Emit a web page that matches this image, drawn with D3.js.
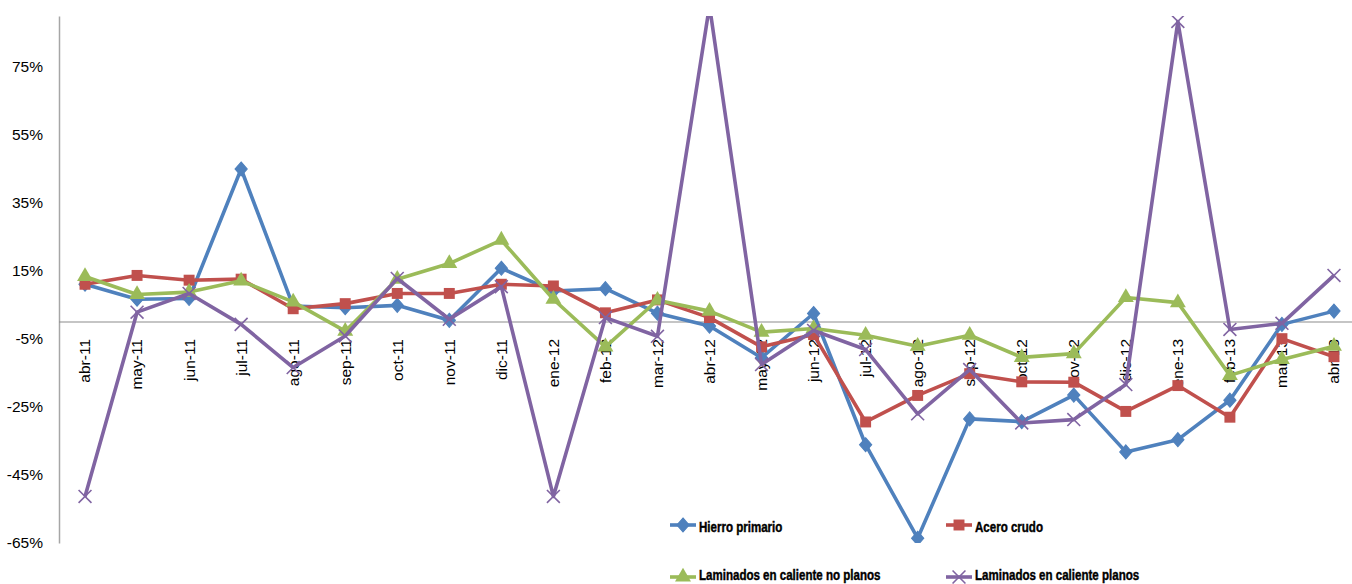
<!DOCTYPE html>
<html>
<head>
<meta charset="utf-8">
<script src="https://cdn.jsdelivr.net/npm/d3@7/dist/d3.min.js"></script>
<style>
  html, body { margin: 0; padding: 0; background: #fff; }
  svg { display: block; }
</style>
</head>
<body>
<svg id="chart" width="1352" height="584"></svg>
<script>
// Monthly year-on-year variation (%), April 2011 – April 2013
const months = ["abr-11","may-11","jun-11","jul-11","ago-11","sep-11","oct-11","nov-11","dic-11",
  "ene-12","feb-12","mar-12","abr-12","may-12","jun-12","jul-12","ago-12","sep-12","oct-12",
  "nov-12","dic-12","ene-13","feb-13","mar-13","abr-13"];

const hierroPrimario = [11.1, 6.7, 6.9, 45.0, 4.7, 4.2, 4.9, 0.5, 15.8, 9.1, 9.8, 2.6, -1.2, -10.5,
  2.5, -36.1, -63.6, -28.5, -29.3, -21.5, -38.2, -34.6, -23.0, -0.7, 3.2];
const aceroCrudo = [11.1, 13.7, 12.3, 12.6, 3.9, 5.4, 8.4, 8.4, 11.1, 10.6, 2.7, 6.5, 1.3, -7.3,
  -3.7, -29.4, -21.6, -15.2, -17.6, -17.7, -26.3, -18.7, -28.0, -4.9, -10.2];
const noPlanos = [13.4, 8.1, 8.8, 12.1, 5.9, -2.7, 12.6, 17.2, 24.1, 6.7, -7.3, 6.4, 3.2, -3.0,
  -1.9, -3.9, -7.1, -3.9, -10.4, -9.3, 7.2, 5.7, -15.7, -11.0, -7.1];
const planos = [-51.3, 2.9, 8.4, -0.7, -13.4, -4.1, 12.8, 0.8, 10.4, -51.3, 1.3, -4.2, 93.0, -12.5,
  -2.5, -8.1, -27.0, -14.0, -29.7, -28.7, -18.4, 88.4, -2.2, -0.4, 13.7];

const yTicks = [-65, -45, -25, -5, 15, 35, 55, 75];

const seriesNames = ["Hierro primario", "Acero crudo", "Laminados en caliente no planos", "Laminados en caliente planos"];
const seriesColors = ["#4F81BD", "#C0504D", "#9BBB59", "#8064A2"];
const seriesMarkers = ["diamond", "square", "triangle", "cross"];
const seriesValues = [hierroPrimario, aceroCrudo, noPlanos, planos];

const svg = d3.select("#chart");
const plot = { left: 59, top: 16, bottom: 543, step: 52.04 };
const baseFont = "'Liberation Sans', Arial, sans-serif";

const x = d3.scaleBand()
  .domain(months)
  .range([plot.left, plot.left + plot.step * months.length])
  .padding(0);
const xc = m => x(m) + x.bandwidth() / 2;

const y = d3.scaleLinear().domain([-65, 90]).range([plot.bottom, plot.top]);

// clip region for the plot area
svg.append("defs").append("clipPath").attr("id", "plotClip")
  .append("rect")
  .attr("x", plot.left).attr("y", plot.top)
  .attr("width", 1352 - plot.left).attr("height", plot.bottom - plot.top);

// Y axis: line and percentage labels
const yAxis = d3.axisLeft(y).tickValues(yTicks).tickSize(0).tickPadding(16)
  .tickFormat(d => d + "%");
const gy = svg.append("g").attr("transform", `translate(${plot.left},0)`).call(yAxis);
gy.select(".domain").attr("stroke", "#A6A6A6").attr("stroke-width", 1.5);
gy.selectAll("text")
  .attr("font-family", baseFont)
  .attr("font-size", 15.5)
  .attr("fill", "#000");

// Category axis sits on the 0% line
const xAxis = d3.axisBottom(x).tickSize(0).tickPadding(0);
const gx = svg.append("g").attr("transform", `translate(0,${y(0)})`).call(xAxis);
gx.select(".domain").remove();
gx.append("line")
  .attr("x1", plot.left).attr("x2", 1352)
  .attr("y1", 0).attr("y2", 0)
  .attr("stroke", "#8C8C8C").attr("stroke-width", 1.2);
gx.selectAll(".tick text")
  .attr("font-family", baseFont)
  .attr("font-size", 15.5)
  .attr("fill", "#000")
  .attr("text-anchor", "end")
  .attr("transform", "rotate(-90)")
  .attr("x", -17)
  .attr("y", 0)
  .attr("dy", "0.35em");

// marker shape helpers
const markerSymbols = {
  diamond: d3.symbol().type(d3.symbolDiamond2).size(95),
  square: d3.symbol().type(d3.symbolSquare).size(120),
  triangle: d3.symbol().type(d3.symbolTriangle).size(110),
  cross: d3.symbol().type(d3.symbolX).size(110)
};

function drawMarker(g, kind, color, cx, cy) {
  const p = g.append("path")
    .attr("d", markerSymbols[kind]())
    .attr("transform", `translate(${cx},${cy})`);
  if (kind === "cross") {
    p.attr("fill", "none").attr("stroke", color).attr("stroke-width", 1.6);
  } else if (kind === "diamond") {
    p.attr("fill", color).attr("stroke", color).attr("stroke-width", 1)
      .attr("transform", `translate(${cx},${cy}) scale(1,1.15)`);
  } else {
    p.attr("fill", color);
  }
}

// Series lines and markers
const lineGen = d3.line().x((d, i) => xc(months[i])).y(d => y(d));
const plotG = svg.append("g").attr("clip-path", "url(#plotClip)");

seriesValues.forEach((vals, s) => {
  const g = plotG.append("g");
  g.append("path")
    .datum(vals)
    .attr("d", lineGen)
    .attr("fill", "none")
    .attr("stroke", seriesColors[s])
    .attr("stroke-width", 3.6)
    .attr("stroke-linejoin", "round");
  vals.forEach((v, i) => drawMarker(g, seriesMarkers[s], seriesColors[s], xc(months[i]), y(v)));
});

// Legend: two rows, two columns; condensed bold labels
const legendPos = [[670, 525, 531.5], [946, 525, 531.5], [670, 577, 579.5], [946, 577, 579.5]];
seriesNames.forEach((name, s) => {
  const [lx, ly, baseline] = legendPos[s];
  const g = svg.append("g");
  g.append("line")
    .attr("x1", lx).attr("x2", lx + 26)
    .attr("y1", ly).attr("y2", ly)
    .attr("stroke", seriesColors[s]).attr("stroke-width", 3.6);
  drawMarker(g, seriesMarkers[s], seriesColors[s], lx + 13, ly);
  g.append("text")
    .attr("transform", `translate(${lx + 29},${baseline}) scale(0.745,1)`)
    .attr("font-family", baseFont)
    .attr("font-weight", "bold")
    .attr("font-size", 15.5)
    .attr("fill", "#000")
    .attr("stroke", "#000")
    .attr("stroke-width", 0.45)
    .text(name);
});
</script>
</body>
</html>
